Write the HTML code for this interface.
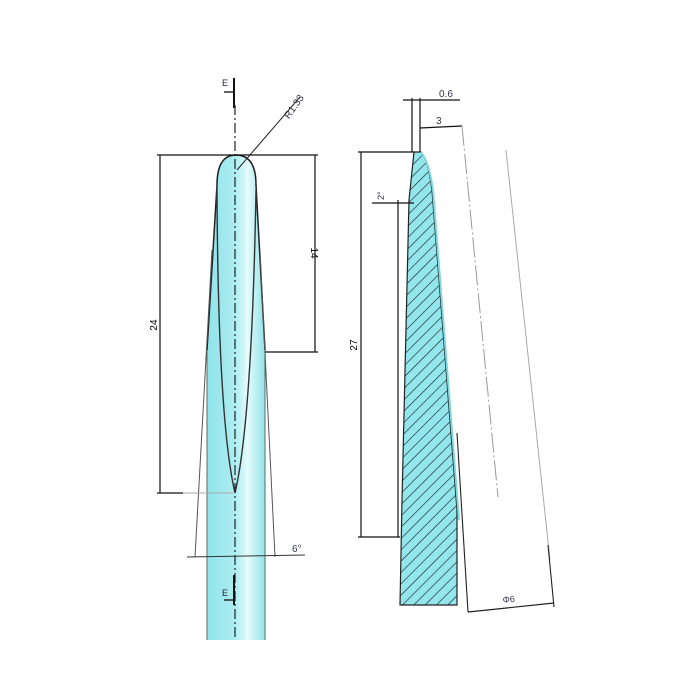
<!DOCTYPE html>
<html><head><style>html,body{margin:0;padding:0;background:#fff}svg{display:block}</style></head>
<body>
<svg width="700" height="700" viewBox="0 0 700 700" xmlns="http://www.w3.org/2000/svg" font-family="Liberation Sans, sans-serif">
<defs>
<linearGradient id="g" x1="0" x2="1" y1="0" y2="0">
<stop offset="0" stop-color="#8fe3ea"/><stop offset="0.5" stop-color="#aeeef2"/><stop offset="0.7" stop-color="#e6fbfc"/><stop offset="1" stop-color="#8fe3ea"/>
</linearGradient>
<pattern id="h" width="8" height="8" patternUnits="userSpaceOnUse" patternTransform="rotate(45)">
<rect width="8" height="8" fill="#92e6ec"/><line x1="0" y1="0" x2="0" y2="8" stroke="#1a2a2a" stroke-width="1.3"/>
</pattern>
</defs>
<!-- Left part -->
<rect x="207" y="349" width="58" height="291" fill="url(#g)"/>
<line x1="207" y1="350" x2="207" y2="640" stroke="#666" stroke-width="1"/>
<line x1="265" y1="350" x2="265" y2="640" stroke="#666" stroke-width="1"/>
<path d="M207,350 L217,185 Q217,155 236,155 Q256,155 256,185 L265,350" fill="url(#g)" stroke="#222" stroke-width="1.5"/>
<path d="M217,190 Q218,420 235,493 Q252,420 256,190" fill="none" stroke="#333" stroke-width="1.4"/>
<line x1="212" y1="250" x2="195" y2="557" stroke="#555" stroke-width="1"/>
<line x1="260" y1="250" x2="275" y2="557" stroke="#555" stroke-width="1"/>
<line x1="235" y1="105" x2="235" y2="640" stroke="#222" stroke-width="1.2" stroke-dasharray="10,3,2,3"/>
<line x1="234" y1="78" x2="234" y2="108" stroke="#111" stroke-width="2"/>
<line x1="224" y1="92" x2="233" y2="92" stroke="#111" stroke-width="1.3"/>
<text x="222" y="86" font-size="9" fill="#223">E</text>
<line x1="234" y1="575" x2="234" y2="605" stroke="#111" stroke-width="2"/>
<line x1="224" y1="600" x2="233" y2="600" stroke="#111" stroke-width="1.3"/>
<text x="222" y="596" font-size="9" fill="#223">E</text>
<line x1="237" y1="170" x2="300" y2="97" stroke="#222" stroke-width="1"/>
<text x="280" y="122" font-size="10" fill="#334" transform="rotate(-55 282 112)">R1.33</text>
<line x1="157" y1="155" x2="318" y2="155" stroke="#111" stroke-width="1.2"/>
<line x1="160" y1="155" x2="160" y2="493" stroke="#111" stroke-width="1.2"/>
<line x1="157" y1="493" x2="183" y2="493" stroke="#111" stroke-width="1.2"/>
<line x1="183" y1="493" x2="235" y2="493" stroke="#aaa" stroke-width="1"/>
<text x="157" y="325" font-size="10" transform="rotate(-90 157 325)" text-anchor="middle">24</text>
<line x1="315" y1="155" x2="315" y2="352" stroke="#111" stroke-width="1.2"/>
<line x1="265" y1="352" x2="318" y2="352" stroke="#111" stroke-width="1.2"/>
<text x="311" y="253" font-size="10" transform="rotate(90 311 253)" text-anchor="middle">14</text>
<line x1="187" y1="557" x2="305" y2="555" stroke="#333" stroke-width="1"/>
<text x="292" y="552" font-size="10" fill="#335">6°</text>
<!-- Right part -->
<path d="M414,152 L421,152 Q428,160 432,190 L457,510 L457,605 L400,605 L402,500 L409,200 Z" fill="url(#h)" stroke="#222" stroke-width="1.2"/>
<path d="M421,152 Q429,162 433,190 L459,520" fill="none" stroke="#7fd8df" stroke-width="2"/>
<line x1="361" y1="152" x2="361" y2="537" stroke="#111" stroke-width="1.2"/>
<line x1="358" y1="152" x2="414" y2="152" stroke="#111" stroke-width="1.2"/>
<line x1="358" y1="537" x2="400" y2="537" stroke="#111" stroke-width="1.2"/>
<text x="357" y="345" font-size="10" transform="rotate(-90 357 345)" text-anchor="middle">27</text>
<line x1="398" y1="200" x2="398" y2="537" stroke="#111" stroke-width="1.2"/>
<line x1="372" y1="203" x2="414" y2="203" stroke="#111" stroke-width="1.2"/>
<text x="384" y="200" font-size="9" fill="#334" transform="rotate(-90 384 200)">2°</text>
<line x1="412" y1="98" x2="412" y2="152" stroke="#111" stroke-width="1.2"/>
<line x1="420" y1="98" x2="420" y2="152" stroke="#111" stroke-width="1.2"/>
<line x1="403" y1="100" x2="460" y2="100" stroke="#111" stroke-width="1.2"/>
<text x="439" y="97" font-size="10" fill="#334">0.6</text>
<line x1="420" y1="128" x2="462" y2="126" stroke="#111" stroke-width="1.2"/>
<text x="436" y="124" font-size="10" fill="#334">3</text>
<line x1="462" y1="126" x2="498" y2="497" stroke="#999" stroke-width="1" stroke-dasharray="20,3,2,3"/>
<line x1="457" y1="433" x2="468" y2="612" stroke="#222" stroke-width="1.1"/>
<line x1="506" y1="150" x2="550" y2="560" stroke="#aaa" stroke-width="1"/>
<line x1="548" y1="545" x2="554" y2="607" stroke="#222" stroke-width="1.1"/>
<line x1="468" y1="612" x2="554" y2="603" stroke="#222" stroke-width="1.2"/>
<text x="503" y="603" font-size="9" fill="#334" transform="rotate(-6 503 603)">Φ6</text>
</svg>
</body></html>
